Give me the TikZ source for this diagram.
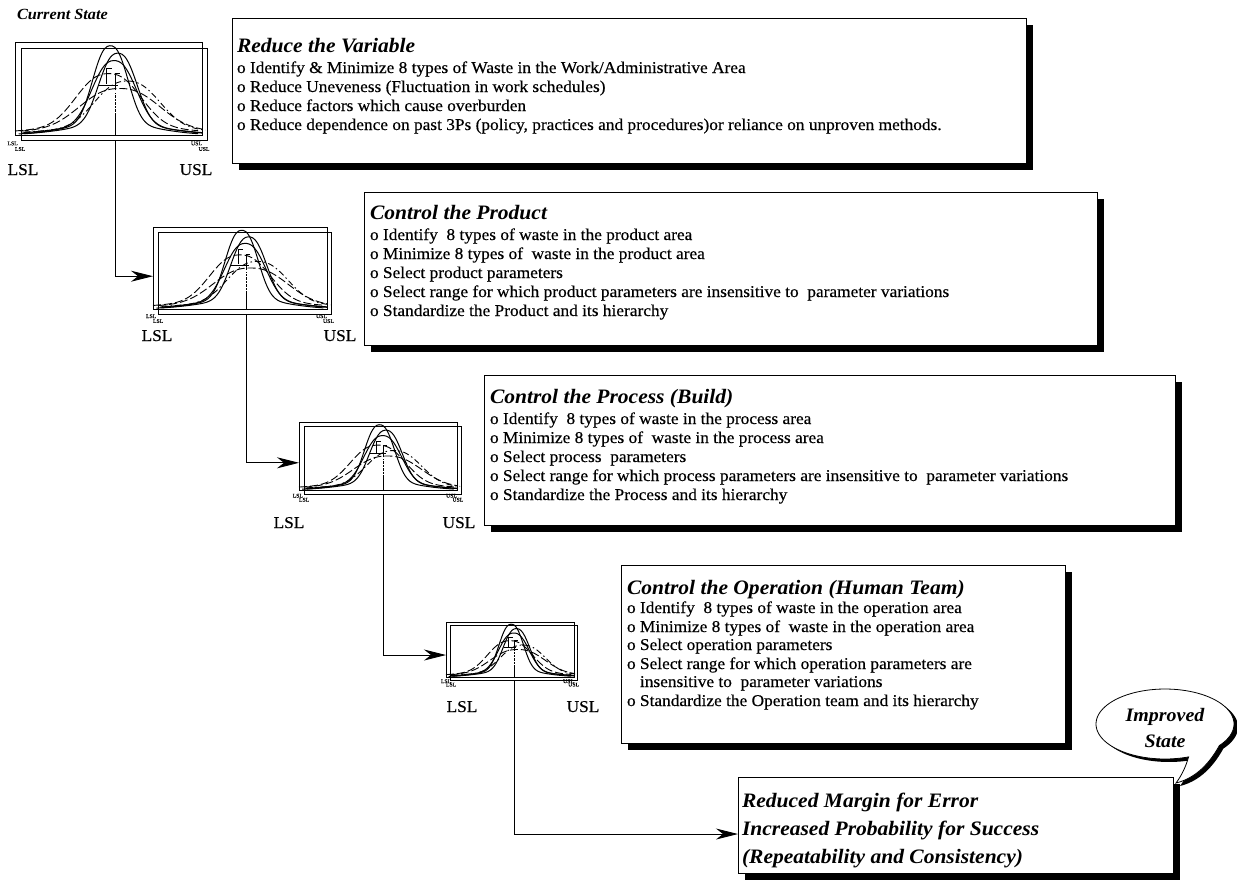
\documentclass[tikz,border=0pt]{standalone}
\usepackage{fontspec}
\setmainfont{Liberation Serif}[FakeStretch=1.05, UprightFeatures={FakeBold=0.4}]
\usetikzlibrary{arrows.meta,shadows}

% one distribution curve: height, centre, spread, domain
\newcommand{\bellplot}[4]{plot[smooth,samples=70,domain=#4]
  (\x,{#1*(0.86*exp(-pow(abs(\x-#2)/#3+0.0001,2.4))+0.14*exp(-pow(abs(\x-#2)/(2.6*#3)+0.0001,2)))})}

\tikzset{
  every node/.style={inner sep=0pt, outer sep=0pt},
  panel/.style={draw=black, line width=0.9pt, fill=white, anchor=north west,
    general shadow={fill=black, shadow xshift=7pt, shadow yshift=-7pt}},
  headline/.style={anchor=base west, font=\fontsize{20.5}{24}\selectfont\bfseries\itshape},
  bodyline/.style={anchor=base west, font=\fontsize{16.5}{19}\selectfont},
  biglabel/.style={anchor=base, font=\fontsize{16.5}{19}\selectfont},
  speclabel/.style={anchor=base west, font=\fontsize{5.5}{6}\selectfont},
  flow/.style={line width=0.9pt, -{Stealth[length=22pt, width=11pt, inset=7pt]}},
  frame/.style={line width=0.8pt},
  curve/.style={line width=1pt},
  dcurve/.style={line width=0.9pt, dash pattern=on 8pt off 3pt},
  ddcurve/.style={line width=0.9pt, dash pattern=on 6pt off 3pt on 1.5pt off 3pt},
  % distribution chart inside two overlapping frames, unit square = outer frame
  bellchart/.pic={
    \draw[frame] (0,0) rectangle (1,1);
    \draw[frame] (0.032,-0.06) rectangle (1.027,0.935);
    \draw[curve] \bellplot{0.96}{0.51}{0.12}{0.02:0.98};
    \draw[curve] \bellplot{0.88}{0.55}{0.13}{0.05:1.0};
    \draw[curve] \bellplot{0.80}{0.53}{0.15}{0.04:1.0};
    \draw[dcurve] \bellplot{0.66}{0.50}{0.22}{0.0:0.98};
    \draw[ddcurve] \bellplot{0.58}{0.60}{0.22}{0.05:1.02};
    \draw[dcurve] \bellplot{0.50}{0.56}{0.27}{0.03:1.0};
    \draw[curve] (0.49,0.55) -- (0.49,0.72) -- (0.52,0.72);
    \draw[curve] (0.535,0.48) -- (0.535,0.66) -- (0.56,0.66);
    \draw[curve] (0.45,0.53) -- (0.55,0.53);
    \draw[curve] (0.535,0.0) -- (0.535,0.22);
    \draw[densely dotted] (0.535,0.22) -- (0.535,0.45);
    \node[speclabel] (-la) at (-0.04,-0.11) {LSL};
    \node[speclabel] (-lb) at (0.0,-0.17) {LSL};
    \node[speclabel, anchor=base east] (-ua) at (1.0,-0.11) {USL};
    \node[speclabel, anchor=base east] (-ub) at (1.04,-0.17) {USL};
    \coordinate (-foot) at (0.535,-0.06);
    \coordinate (-entry) at (0,0.4);
  }
}

\newcommand{\bubbleoutline}{%
  plot[smooth,samples=90,domain=70:398] ({1165+69*cos(\x)},{724+35*sin(\x)})
  .. controls (1207,768) and (1192,779) .. (1176,783)
  .. controls (1182,775) and (1186,766) .. cycle}

\begin{document}
\begin{tikzpicture}[x=1pt,y=-1pt]
\useasboundingbox[fill=white] (0,0) rectangle (1237,887);

% stage charts
\node[anchor=base west, font=\fontsize{15.5}{18}\selectfont\bfseries\itshape] (cur) at (17,19) {Current State};
\pic[x=187pt, y=93pt] (c1) at (15pt,-135pt) {bellchart};
\pic[x=174pt, y=82pt] (c2) at (153pt,-309pt) {bellchart};
\pic[x=158pt, y=68pt] (c3) at (299pt,-490pt) {bellchart};
\pic[x=128pt, y=55pt] (c4) at (446pt,-677pt) {bellchart};

\node[biglabel] (c1l) at (23,175) {LSL};
\node[biglabel] (c1u) at (196,175) {USL};
\node[biglabel] (c2l) at (157,341) {LSL};
\node[biglabel] (c2u) at (340,341) {USL};
\node[biglabel] (c3l) at (289,528) {LSL};
\node[biglabel] (c3u) at (459,528) {USL};
\node[biglabel] (c4l) at (462,712) {LSL};
\node[biglabel] (c4u) at (583,712) {USL};

% panels
\node[panel, minimum width=794pt, minimum height=145pt] (box1) at (232,18) {};
\node[panel, minimum width=733pt, minimum height=153pt] (box2) at (364,192) {};
\node[panel, minimum width=691pt, minimum height=150pt] (box3) at (484,375) {};
\node[panel, minimum width=444pt, minimum height=178pt] (box4) at (621,565) {};
\node[panel, minimum width=435pt, minimum height=96pt] (box5) at (738,777) {};
\coordinate (box5in) at (738,834);

% panel 1
\node[headline] (t1) at (237,52) {Reduce the Variable};
\foreach \t [count=\i] in {%
  {o Identify \& Minimize 8 types of Waste in the Work/Administrative Area},
  {o Reduce Uneveness (Fluctuation in work schedules)},
  {o Reduce factors which cause overburden},
  {o Reduce dependence on past 3Ps (policy, practices and procedures)or reliance on unproven methods.}}
  \node[bodyline] (p1-\i) at (237,{73+19*(\i-1)}) {\t};

% panel 2
\node[headline] (t2) at (370,219) {Control the Product};
\foreach \t [count=\i] in {%
  {o Identify\ \ 8 types of waste in the product area},
  {o Minimize 8 types of\ \ waste in the product area},
  {o Select product parameters},
  {o Select range for which product parameters are insensitive to\ \ parameter variations},
  {o Standardize the Product and its hierarchy}}
  \node[bodyline] (p2-\i) at (370,{240+19*(\i-1)}) {\t};

% panel 3
\node[headline] (t3) at (490,403) {Control the Process (Build)};
\foreach \t [count=\i] in {%
  {o Identify\ \ 8 types of waste in the process area},
  {o Minimize 8 types of\ \ waste in the process area},
  {o Select process\ \ parameters},
  {o Select range for which process parameters are insensitive to\ \ parameter variations},
  {o Standardize the Process and its hierarchy}}
  \node[bodyline] (p3-\i) at (490,{424+19*(\i-1)}) {\t};

% panel 4
\node[headline] (t4) at (627,594) {Control the Operation (Human Team)};
\node[bodyline] (p4-1) at (627,613) {o Identify\ \ 8 types of waste in the operation area};
\node[bodyline] (p4-2) at (627,632) {o Minimize 8 types of\ \ waste in the operation area};
\node[bodyline] (p4-3) at (627,650) {o Select operation parameters};
\node[bodyline] (p4-4) at (627,669) {o Select range for which operation parameters are};
\node[bodyline] (p4-5) at (640,687) {insensitive to\ \ parameter variations};
\node[bodyline] (p4-6) at (627,706) {o Standardize the Operation team and its hierarchy};

% result panel
\node[headline] (r1) at (742,807) {Reduced Margin for Error};
\node[headline] (r2) at (742,835) {Increased Probability for Success};
\node[headline] (r3) at (742,863) {(Repeatability and Consistency)};

% speech bubble
\fill[black, shift={(4pt,-3pt)}] \bubbleoutline;
\draw[line width=0.8pt, fill=white] \bubbleoutline;
\node[anchor=base, font=\fontsize{19}{22}\selectfont\bfseries\itshape] (imp1) at (1165,721) {Improved};
\node[anchor=base, font=\fontsize{19}{22}\selectfont\bfseries\itshape] (imp2) at (1165,747) {State};

% flow between stages
\draw[flow] (c1-foot) |- (c2-entry);
\draw[flow] (c2-foot) |- (c3-entry);
\draw[flow] (c3-foot) |- (c4-entry);
\draw[flow] (c4-foot) |- (box5in);
\end{tikzpicture}
\end{document}
